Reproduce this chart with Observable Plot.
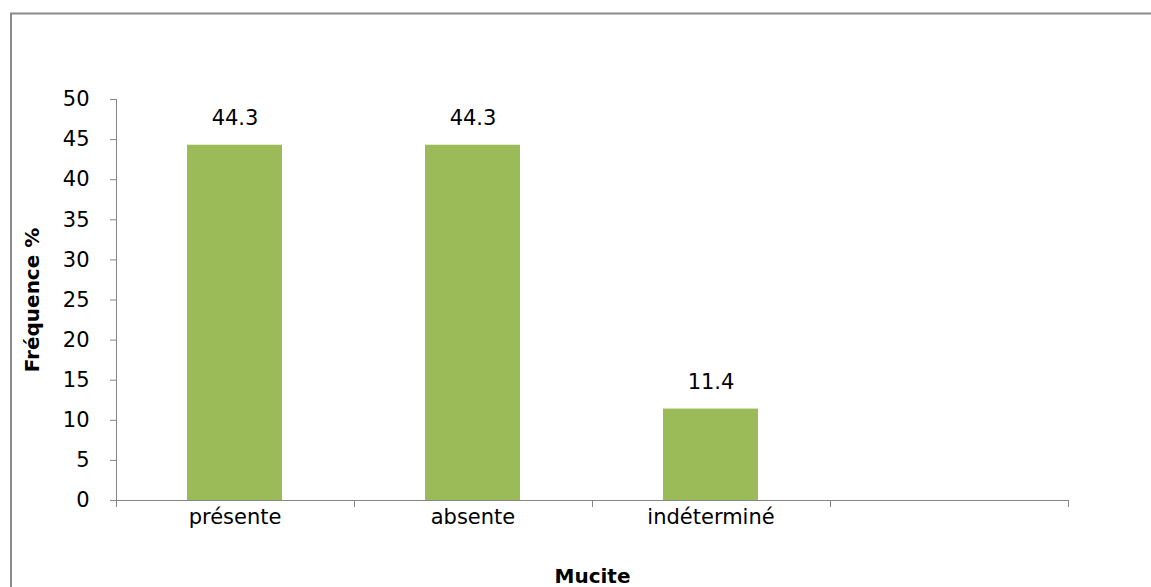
<!DOCTYPE html>
<html>
<head>
<meta charset="utf-8">
<script src="https://cdn.jsdelivr.net/npm/d3@7"></script>
<script src="https://cdn.jsdelivr.net/npm/@observablehq/plot@0.6"></script>
<style>
  html, body { margin: 0; padding: 0; background: #fff; }
  #chart svg { display: block; }
</style>
</head>
<body>
<div id="chart"></div>
<script>
// Mucite: répartition des cas (fréquence en %)
const categories = ["présente", "absente", "indéterminé", ""];
const frequencies = [44.3, 44.3, 11.4];
const yTicks = [0, 5, 10, 15, 20, 25, 30, 35, 40, 45, 50];
const yTitle = "Fréquence %";
const xTitle = "Mucite";

const rows = frequencies.map((v, i) => ({category: categories[i], value: v}));

const axisColor = "#868686";
const barColor = "#9BBB59";
const font = "'DejaVu Sans', sans-serif";

// Outer frame, axis lines and category-boundary ticks
function chartLines(index, scales, values, dimensions) {
  const {width, height, marginLeft, marginRight, marginTop} = dimensions;
  const x = scales.x, y = scales.y;
  const g = d3.create("svg:g").attr("fill", "none").attr("stroke", axisColor);
  // chart area border (left and top edges)
  g.append("path")
    .attr("stroke", "#8a8a8a")
    .attr("stroke-width", 2)
    .attr("d", `M11,${height + 5}V13.5H${width + 5}`);
  const x0 = marginLeft, x1 = width - marginRight;
  const y0 = y(0), y1 = marginTop;
  g.append("path").attr("d", `M${x0 + 0.5},${y0}V${y1}`);
  g.append("path").attr("d", `M${x0},${y0 + 0.5}H${x1}`);
  const step = x.step(), bw = x.bandwidth();
  const bounds = x.domain().map(c => x(c) - (step - bw) / 2);
  bounds.push(bounds[bounds.length - 1] + step);
  for (const b of bounds) {
    g.append("path").attr("d", `M${Math.round(b) + 0.5},${y0}v7`);
  }
  return g.node();
}

const chart = Plot.plot({
  width: 1151,
  height: 587,
  marginLeft: 116,
  marginRight: 83,
  marginTop: 99,
  marginBottom: 87,
  style: {fontFamily: font, fontSize: "21px", color: "#000", background: "#fff"},
  x: {domain: categories, paddingInner: 0.6, paddingOuter: 0.3},
  y: {domain: [0, 50]},
  marks: [
    Plot.barY(rows, {x: "category", y: "value", fill: barColor}),
    Plot.text(rows, {x: "category", y: "value", text: d => d.value.toFixed(1), dy: -27, fontSize: 21, fill: "#000"}),
    Plot.axisY({ticks: yTicks, tickSize: 6, tickPadding: 21, stroke: axisColor, fill: "#000", label: null, fontSize: 21}),
    Plot.axisX({tickSize: 0, tickPadding: 9, label: null, fill: "#000", fontSize: 21}),
    chartLines,
    Plot.text([yTitle], {frameAnchor: "left", textAnchor: "middle", lineAnchor: "middle", rotate: -90, dx: -84, fontWeight: "bold", fontSize: 20, fill: "#000"}),
    Plot.text([xTitle], {frameAnchor: "bottom", textAnchor: "middle", lineAnchor: "middle", dy: 76, fontWeight: "bold", fontSize: 20, fill: "#000"})
  ]
});

document.getElementById("chart").append(chart);
</script>
</body>
</html>
